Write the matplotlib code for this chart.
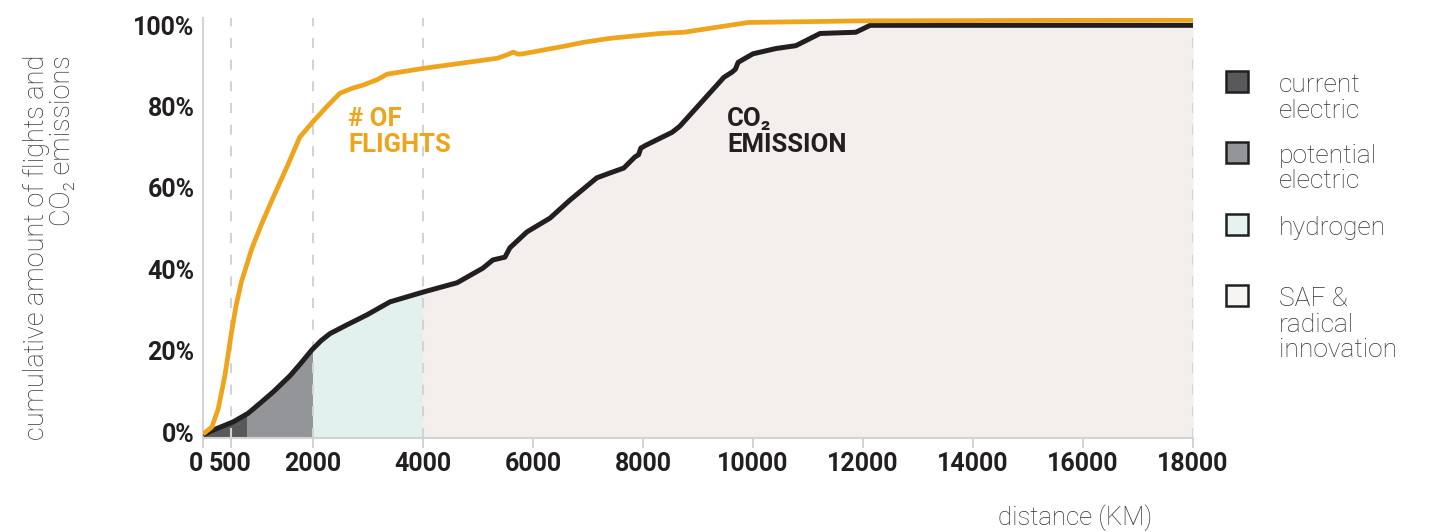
import numpy as np
import matplotlib
matplotlib.use("Agg")
import matplotlib.pyplot as plt
from matplotlib.patches import Rectangle

# ---------------- data ----------------
flight_km = [0, 160, 275, 400, 500, 600, 700, 890, 1070, 1270, 1520, 1760, 1980, 2250,
             2490, 2730, 2910, 3160, 3350, 4000, 5350, 5520, 5640, 5730, 5820, 6620, 6910,
             7400, 8310, 8750, 9910, 12000, 18000]
flight_pct = [-0.5, 1.2, 5.6, 14, 23, 31, 37, 45.2, 51.3, 57.5, 65, 72.5, 76, 80,
              83.3, 84.6, 85.3, 86.6, 88, 89.4, 91.9, 92.7, 93.4, 92.9, 93, 95, 95.8,
              96.8, 98, 98.3, 100.7, 101.1, 101.3]

emission_km = [0, 190, 550, 820, 1040, 1280, 1580, 1760, 1980, 2150, 2310, 2610, 2980,
               3400, 4000, 4620, 5090, 5270, 5490, 5580, 5890, 6310, 6670, 7160, 7400,
               7650, 7850, 7920, 7960, 8050, 8530, 8670, 9470, 9620, 9680, 9730, 10000,
               10420, 10780, 11000, 11220, 11870, 12130, 18000]
emission_pct = [-0.7, 0.5, 2.5, 4.6, 7.1, 9.9, 13.8, 16.6, 20.2, 22.5, 24.2, 26.3, 28.8,
                32, 34.4, 36.7, 40.3, 42.3, 43, 45.3, 49.2, 52.6, 57, 62.5, 63.7,
                64.9, 67.6, 68.2, 69.8, 70.5, 73.7, 75.2, 87.2, 88.5, 89.2, 90.9, 93,
                94.3, 95, 96.5, 98, 98.3, 100, 100]

zone_edges_km = [0, 800, 2000, 4000, 18000]
zone_names = ["current\nelectric", "potential\nelectric", "hydrogen", "SAF &\nradical\ninnovation"]
zone_colors = ["#58595b", "#939598", "#e3f1ee", "#f3efec"]
legend_colors = ["#58595b", "#939598", "#e5f2ef", "#f7f5f3"]

x_ticks = [0, 500, 2000, 4000, 6000, 8000, 10000, 12000, 14000, 16000, 18000]
y_ticks = [0, 20, 40, 60, 80, 100]
dashed_km = [500, 2000, 4000, 18000]

# ---------------- style ----------------
ORANGE = "#eea41c"
BLACK = "#231f20"
GRID = "#d1d3d4"
TXT = "#333333"
plt.rcParams["font.family"] = ["Roboto", "DejaVu Sans"]

W, H = 1436, 532
fig = plt.figure(figsize=(W / 100, H / 100), dpi=100)

def fx(px):
    return px / W

def fy(py):
    return 1 - py / H

YMIN, YMAX = -1.4, 101.8
ax = fig.add_axes([fx(203), fy(437.7), 990 / W, (437.7 - 18) / H])
ax.set_xlim(0, 18000)
ax.set_ylim(YMIN, YMAX)

# zone fills under the emission curve
for x0, x1, c in zip(zone_edges_km[:-1], zone_edges_km[1:], zone_colors):
    poly = ax.fill_between(emission_km, emission_pct, YMIN, color=c, lw=0, zorder=1)
    clip = Rectangle((x0, YMIN - 5), x1 - x0, 120, transform=ax.transData)
    poly.set_clip_path(clip)

for x in dashed_km:
    ax.axvline(x, color=GRID, lw=1.5, ls=(0, (4.8, 5.6)), zorder=2)

ax.plot(emission_km, emission_pct, color=BLACK, lw=3.6, solid_joinstyle="round",
        solid_capstyle="butt", zorder=3)
ax.plot(flight_km, flight_pct, color=ORANGE, lw=3.4, solid_joinstyle="round",
        solid_capstyle="butt", zorder=4)

# axes styling
for s in ["top", "right"]:
    ax.spines[s].set_visible(False)
for s in ["left", "bottom"]:
    ax.spines[s].set_color(GRID)
    ax.spines[s].set_linewidth(1.5)

ax.set_xticks(x_ticks, labels=[str(v) for v in x_ticks])
ax.set_yticks(y_ticks, labels=[f"{v}%" for v in y_ticks])
ax.tick_params(axis="x", length=7.2, width=1.5, color=GRID, pad=3,
               labelsize=18, labelcolor=BLACK)
ax.tick_params(axis="y", length=0, pad=6, labelsize=18, labelcolor=BLACK)
for lab in ax.get_xticklabels() + ax.get_yticklabels():
    lab.set_fontweight("bold")
ax.get_xticklabels()[0].set_horizontalalignment("right")

# annotations (va='baseline' anchors the last line)
ax.text(2640, 68.8, "# OF\nFLIGHTS", color=ORANGE, fontsize=18.5, fontweight="bold",
        ha="left", va="baseline", linespacing=1.12, zorder=5)
ax.text(9530, 68.8, "CO\u2082\nEMISSION", color=BLACK, fontsize=18.5, fontweight="bold",
        ha="left", va="baseline", linespacing=1.12, zorder=5)

# axis titles
fig.text(fx(49.5), fy(55), "cumulative amount of flights and\nCO\u2082 emissions",
         rotation=90, ha="center", va="top", multialignment="right",
         fontsize=19.5, fontweight="light", color=TXT, linespacing=0.98)
fig.text(fx(1075), fy(525), "distance (KM)", ha="center", va="baseline",
         fontsize=18.5, fontweight="light", color=TXT)

# legend
centers_y = [81.5, 152.5, 224.5, 295.5]
for cy, name, c in zip(centers_y, zone_names, legend_colors):
    side = 21.5
    fig.add_artist(Rectangle((fx(1237 - side / 2), fy(cy + side / 2)), side / W, side / H,
                             transform=fig.transFigure, facecolor=c, edgecolor=BLACK,
                             lw=1.8))
    for i, line in enumerate(name.split("\n")):
        fig.text(fx(1279), fy(cy + 10.5 + 25.5 * i), line, ha="left", va="baseline",
                 fontsize=19, fontweight="light", color=TXT)

fig.savefig("out.png", dpi=100)
